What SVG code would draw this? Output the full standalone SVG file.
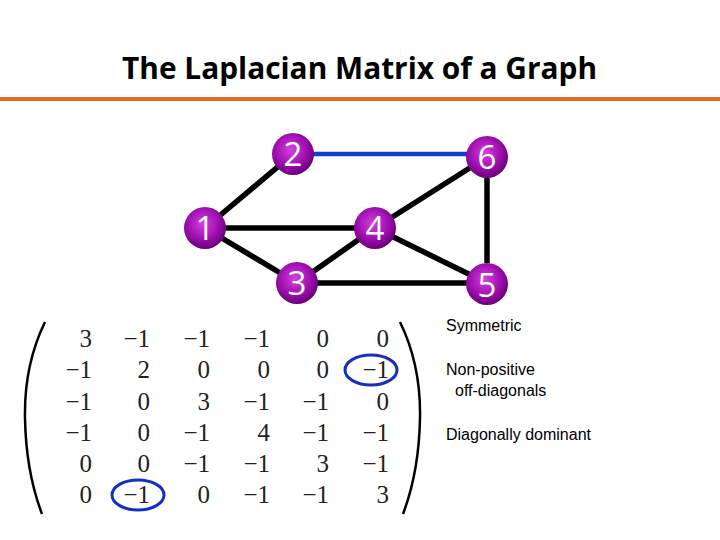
<svg xmlns="http://www.w3.org/2000/svg" width="720" height="540" viewBox="0 0 720 540">
<defs>
<radialGradient id="g" cx="0.45" cy="0.4" r="0.6">
<stop offset="0" stop-color="#d640e0"/>
<stop offset="0.6" stop-color="#a010b0"/>
<stop offset="1" stop-color="#6a0078"/>
</radialGradient>
<style>
.title{font-family:"Open Sans","Liberation Sans",sans-serif;font-weight:bold;font-size:31px;fill:#000}
.e{stroke:#000;stroke-width:5.5;stroke-linecap:butt}
.node circle{fill:url(#g)}
.node text{font-family:"Open Sans","Liberation Sans",sans-serif;font-size:33px;fill:#fff;text-anchor:middle}
.m{font-family:"Liberation Serif","DejaVu Serif",serif;font-size:25px;fill:#222;text-anchor:end}
.note{font-family:"Liberation Sans",Arial,sans-serif;font-size:16px;fill:#000}
.oval{fill:none;stroke:#1530c0;stroke-width:3}
.paren{fill:none;stroke:#000;stroke-width:2.5}
</style>
</defs>
<rect width="720" height="540" fill="#fff"/>
<text class="title" x="122" y="79" textLength="475" lengthAdjust="spacingAndGlyphs">The Laplacian Matrix of a Graph</text>
<rect x="0" y="97" width="720" height="4" fill="#e07020"/>
<g id="connectors">
<line class="e" x1="205" y1="228" x2="293" y2="154"/>
<line class="e" x1="205" y1="228" x2="375" y2="228"/>
<line class="e" x1="205" y1="228" x2="297" y2="283"/>
<line class="e" x1="297" y1="283" x2="375" y2="228"/>
<line class="e" x1="375" y1="228" x2="487" y2="157"/>
<line class="e" x1="375" y1="228" x2="487" y2="283"/>
<line class="e" x1="297" y1="283" x2="487" y2="283"/>
<line class="e" x1="487" y1="178" x2="487" y2="263"/>
<line x1="313" y1="154" x2="470" y2="154" stroke="#1040d0" stroke-width="4.5"/>
</g>
<g id="node1" class="node"><circle cx="205" cy="228" r="21"/><text x="205" y="240">1</text></g>
<g id="node2" class="node"><circle cx="293" cy="154" r="21"/><text x="293" y="166">2</text></g>
<g id="node3" class="node"><circle cx="297" cy="283" r="21"/><text x="297" y="295">3</text></g>
<g id="node4" class="node"><circle cx="375" cy="228" r="21"/><text x="375" y="240">4</text></g>
<g id="node5" class="node"><circle cx="487" cy="284" r="21"/><text x="487" y="297">5</text></g>
<g id="node6" class="node"><circle cx="487" cy="157" r="21"/><text x="487" y="169">6</text></g>
<g id="matrix">
<path class="paren" d="M45,322 Q24,365 25,418 Q26,472 42,514"/>
<path class="paren" d="M400,322 Q421,365 420,418 Q419,472 403,514"/>
<g class="m">
<text x="92" y="347">3</text><text x="150" y="347">−1</text><text x="210" y="347">−1</text><text x="270" y="347">−1</text><text x="329" y="347">0</text><text x="389" y="347">0</text>
<text x="92" y="378">−1</text><text x="150" y="378">2</text><text x="210" y="378">0</text><text x="270" y="378">0</text><text x="329" y="378">0</text><text x="389" y="378">−1</text>
<text x="92" y="410">−1</text><text x="150" y="410">0</text><text x="210" y="410">3</text><text x="270" y="410">−1</text><text x="329" y="410">−1</text><text x="389" y="410">0</text>
<text x="92" y="441">−1</text><text x="150" y="441">0</text><text x="210" y="441">−1</text><text x="270" y="441">4</text><text x="329" y="441">−1</text><text x="389" y="441">−1</text>
<text x="92" y="472">0</text><text x="150" y="472">0</text><text x="210" y="472">−1</text><text x="270" y="472">−1</text><text x="329" y="472">3</text><text x="389" y="472">−1</text>
<text x="92" y="503">0</text><text x="150" y="503">−1</text><text x="210" y="503">0</text><text x="270" y="503">−1</text><text x="329" y="503">−1</text><text x="389" y="503">3</text>
</g>
<ellipse class="oval" cx="371" cy="370" rx="26" ry="15"/>
<ellipse class="oval" cx="138" cy="495" rx="26" ry="15"/>
</g>
<text class="note" x="446" y="331">Symmetric</text>
<text class="note" x="446" y="375">Non-positive</text>
<text class="note" x="455" y="396">off-diagonals</text>
<text class="note" x="446" y="440">Diagonally dominant</text>
</svg>
